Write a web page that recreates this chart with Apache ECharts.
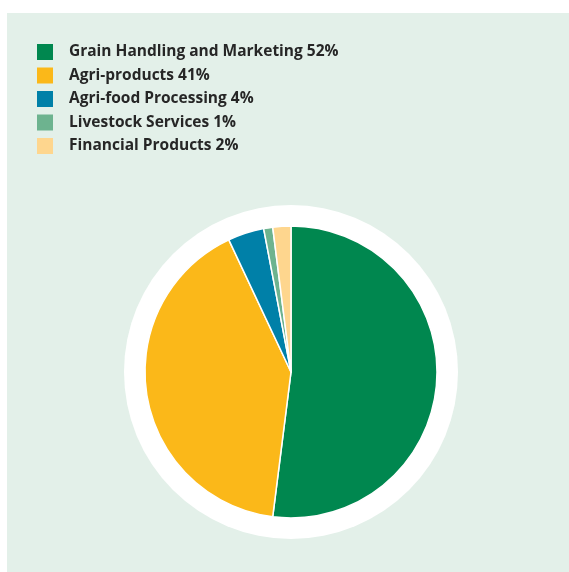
<!DOCTYPE html>
<html><head><meta charset="utf-8">
<script src="https://cdn.jsdelivr.net/npm/echarts@6/dist/echarts.min.js"></script>
<style>html,body{margin:0;padding:0;background:#fff}#c{width:569px;height:572px}</style>
</head><body><div id="c"></div>
<script>
const categories = ["Grain Handling and Marketing", "Agri-products", "Agri-food Processing", "Livestock Services", "Financial Products"];
const values = [52, 41, 4, 1, 2];
const colors = ["#00874f", "#fbb819", "#0080a8", "#6db38f", "#fed68e"];

const chart = echarts.init(document.getElementById('c'), null, {renderer: 'canvas'});
const valueByName = {};
categories.forEach((c, i) => valueByName[c] = values[i]);
chart.setOption({
  backgroundColor: '#ffffff',
  animation: false,
  graphic: [{type: 'rect', shape: {x: 7, y: 13, width: 562, height: 559}, style: {fill: '#e3f0e9'}, z: -10}],
  legend: {
    orient: 'vertical', left: 37, top: 44, padding: 0, itemWidth: 16, itemHeight: 16, itemGap: 7.5,
    icon: 'rect', selectedMode: false,
    itemStyle: {borderWidth: 0},
    textStyle: {fontFamily: '"Open Sans", sans-serif', fontWeight: 'bold', fontSize: 15.5, lineHeight: 16, height: 16, color: '#262626', padding: [0, 0, 0, 11]},
    formatter: n => n + ' ' + valueByName[n] + '%',
    data: categories
  },
  series: [
    {type: 'pie', silent: true, center: [291, 372], radius: 167, label: {show: false}, labelLine: {show: false},
     data: [{value: 1, name: '_bg', itemStyle: {color: '#ffffff'}}], z: 1, legendHoverLink: false},
    {type: 'pie', center: [291, 372], radius: 146, startAngle: 90, clockwise: true, label: {show: false}, labelLine: {show: false},
     itemStyle: {borderColor: '#ffffff', borderWidth: 1.5},
     data: categories.map((c, i) => ({name: c, value: values[i], itemStyle: {color: colors[i]}})), z: 2}
  ]
});
</script></body></html>
